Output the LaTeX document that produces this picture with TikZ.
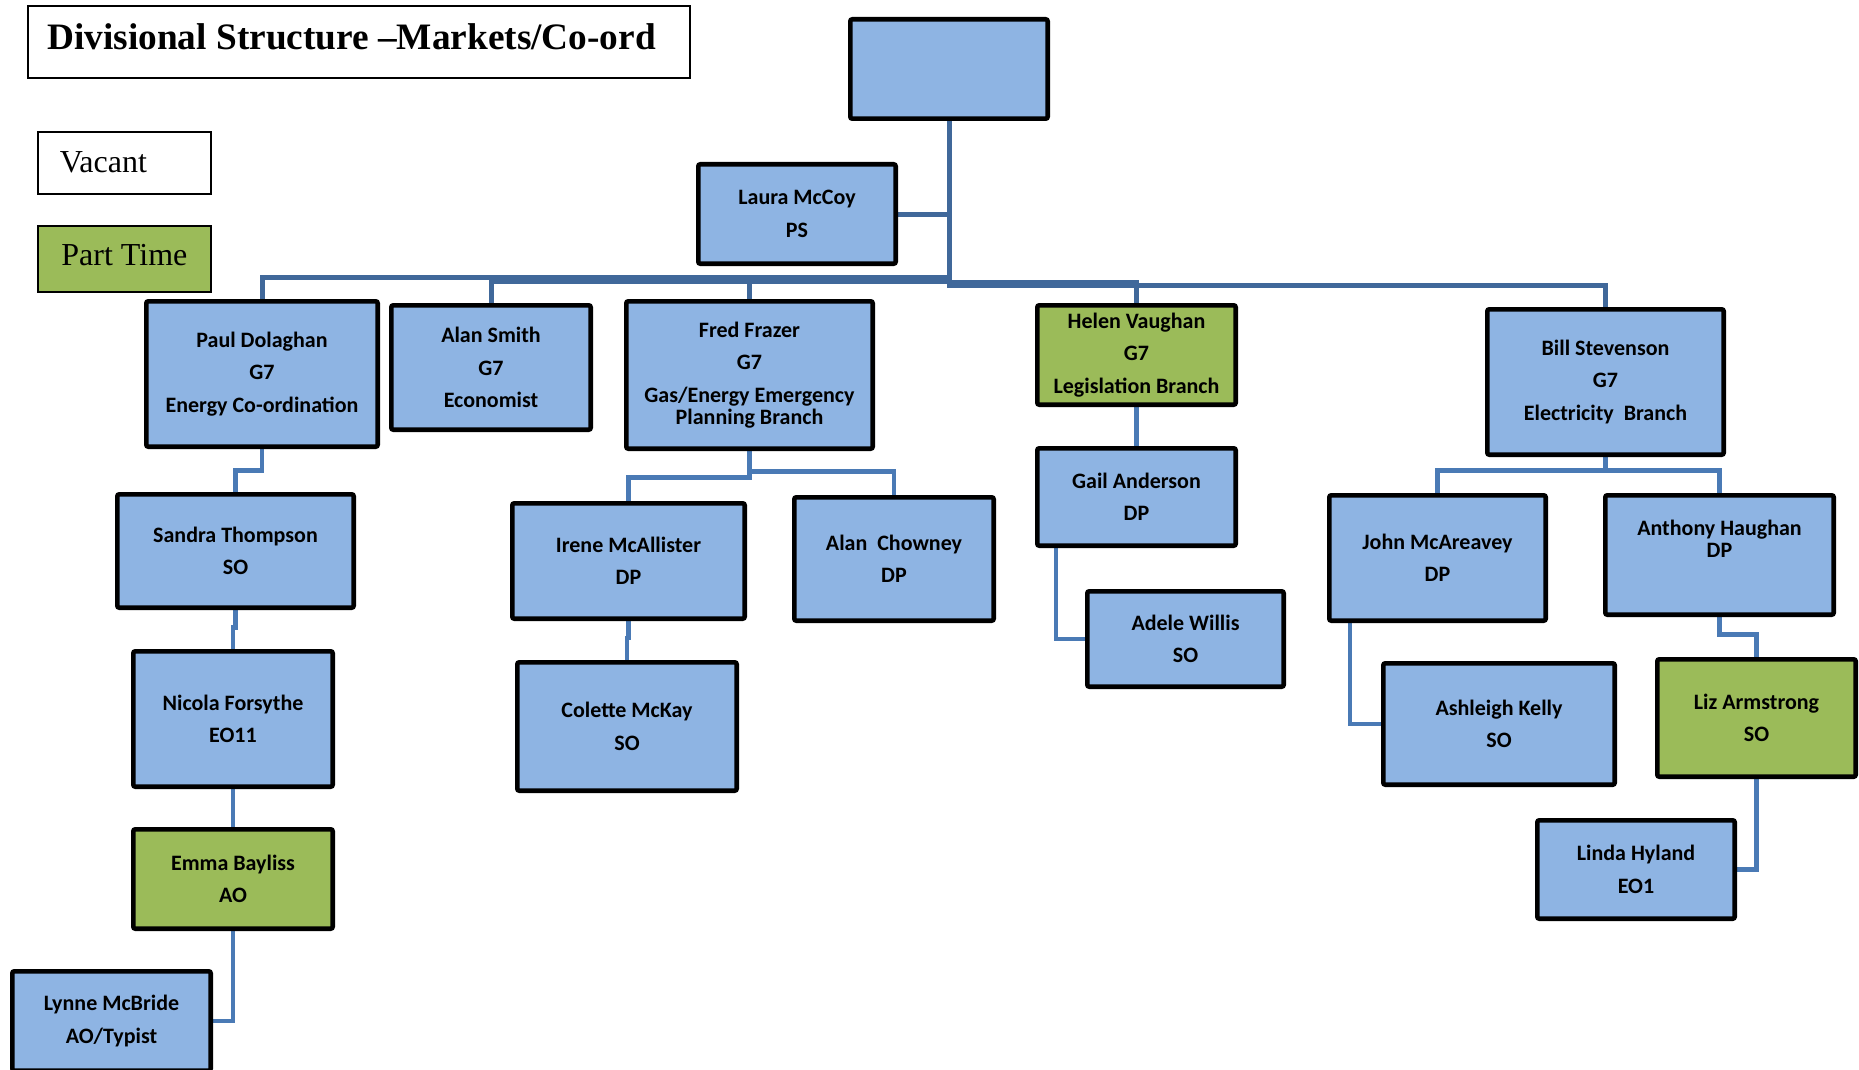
\documentclass[tikz,border=0pt]{standalone}
\usepackage{fontspec}
\setmainfont{Liberation Serif}
\newfontfamily\calfont{Carlito}
\usetikzlibrary{backgrounds}
\definecolor{boxblue}{RGB}{142,180,227}
\definecolor{boxgreen}{RGB}{155,187,89}
\definecolor{linetop}{RGB}{64,104,154}
\definecolor{linelow}{RGB}{74,122,181}
\tikzset{
  org/.style={draw=black, line width=2.35pt, fill=boxblue, rounded corners=1pt, inner sep=0pt,
    align=center, font=\calfont\bfseries\fontsize{11}{11.2}\selectfont},
  ptime/.style={org, fill=boxgreen},
  legendbox/.style={draw=black, line width=0.9pt, inner sep=0pt},
  contop/.style={draw=linetop, line width=2.5pt},
  conlow/.style={draw=linelow, line width=2.4pt},
}
\begin{document}
\begin{tikzpicture}[x=0.5pt,y=-0.5pt]
\useasboundingbox (0,0) rectangle (1859,1070);

% legend and title
\node[legendbox, minimum width=331.1pt, minimum height=36.1pt] (titlebox) at (359,42) {};
\node[anchor=base west, inner sep=0pt, font=\bfseries\fontsize{18.65}{22}\selectfont] (title) at (47,50) {Divisional Structure –Markets/Co-ord};
\node[legendbox, minimum width=86.6pt, minimum height=31.1pt] (vacantbox) at (124.5,163) {};
\node[anchor=base west, inner sep=0pt, font=\fontsize{16}{19}\selectfont] (vacant) at (59.5,172) {Vacant};
\node[legendbox, fill=boxgreen, minimum width=86.6pt, minimum height=33.1pt] (ptbox) at (124.5,259) {};
\node[anchor=base west, inner sep=0pt, font=\fontsize{16}{19}\selectfont] (parttime) at (61,265) {Part Time};

% org boxes
\node[org, minimum width=98.65pt, minimum height=49.65pt] (top) at (949,69) {};
\node[org, minimum width=98.65pt, minimum height=49.65pt] (laura) at (797,214) {Laura McCoy\\[5pt]PS};
\node[org, minimum width=115.65pt, minimum height=72.65pt] (paul) at (262,374) {Paul Dolaghan\\[5pt]G7\\[5pt]Energy Co-ordination};
\node[org, minimum width=99.65pt, minimum height=62.15pt] (alan) at (491,367.5) {Alan Smith\\[5pt]G7\\[5pt]Economist};
\node[org, minimum width=123.15pt, minimum height=73.65pt] (fred) at (749.5,375) {Fred Frazer\\[5pt]G7\\[5pt]Gas/Energy Emergency\\Planning Branch};
\node[ptime, minimum width=99.15pt, minimum height=49.65pt] (helen) at (1136.5,355) {Helen Vaughan\\[5pt]G7\\[5pt]Legislation Branch};
\node[org, minimum width=118.15pt, minimum height=72.65pt] (bill) at (1605.5,382) {Bill Stevenson\\[5pt]G7\\[5pt]Electricity\ \ Branch};
\node[org, minimum width=118.15pt, minimum height=56.65pt] (sandra) at (235.5,551) {Sandra Thompson\\[5pt]SO};
\node[org, minimum width=99.65pt, minimum height=67.65pt] (nicola) at (233,719) {Nicola Forsythe\\[5pt]EO11};
\node[ptime, minimum width=99.65pt, minimum height=49.65pt] (emma) at (233,879) {Emma Bayliss\\[5pt]AO};
\node[org, minimum width=99.15pt, minimum height=49.65pt] (lynne) at (111.5,1021) {Lynne McBride\\[5pt]AO/Typist};
\node[org, minimum width=116.15pt, minimum height=57.65pt] (irene) at (628.5,561) {Irene McAllister\\[5pt]DP};
\node[org, minimum width=99.65pt, minimum height=61.65pt] (chowney) at (894,559) {Alan\ \ Chowney\\[5pt]DP};
\node[org, minimum width=109.65pt, minimum height=64.15pt] (colette) at (627,726.5) {Colette McKay\\[5pt]SO};
\node[org, minimum width=99.15pt, minimum height=48.65pt] (gail) at (1136.5,497) {Gail Anderson\\[5pt]DP};
\node[org, minimum width=98.15pt, minimum height=47.65pt] (adele) at (1185.5,639) {Adele Willis\\[5pt]SO};
\node[org, minimum width=108.15pt, minimum height=62.65pt] (john) at (1437.5,558) {John McAreavey\\[5pt]DP};
\node[org, minimum width=114.15pt, minimum height=59.65pt] (anthony) at (1719.5,555) {Anthony Haughan\\DP\\[5pt]\mbox{}};
\node[org, minimum width=115.65pt, minimum height=60.65pt] (ashleigh) at (1499,724) {Ashleigh Kelly\\[5pt]SO};
\node[ptime, minimum width=99.15pt, minimum height=58.65pt] (liz) at (1756.5,718) {Liz Armstrong\\[5pt]SO};
\node[org, minimum width=98.65pt, minimum height=49.15pt] (linda) at (1636,869.5) {Linda Hyland\\[5pt]EO1};

% connectors
\begin{scope}[on background layer]
\draw[contop] (top.south) |- (laura.east);
\draw[contop] (top.south) |- ([yshift=10.7pt]paul.north) -- (paul.north);
\draw[contop] (top.south) |- ([yshift=10.7pt]alan.north) -- (alan.north);
\draw[contop] (top.south) |- ([yshift=8.7pt]fred.north) -- (fred.north);
\draw[contop] (top.south) |- ([yshift=10.2pt]helen.north) -- (helen.north);
\draw[contop] (top.south) |- ([yshift=10.7pt]bill.north) -- (bill.north);

\draw[conlow] (paul.south) |- ([yshift=10.7pt]sandra.north) -- (sandra.north);
\draw[conlow] (sandra.south) |- ([yshift=10.7pt]nicola.north) -- (nicola.north);
\draw[conlow] (nicola.south) -- (emma.north);
\draw[conlow] (emma.south) |- (lynne.east);
\draw[conlow] (fred.south) |- ([yshift=11.7pt]irene.north) -- (irene.north);
\draw[conlow] (fred.south) |- ([yshift=11.7pt]chowney.north) -- (chowney.north);
\draw[conlow] (irene.south) |- ([yshift=11pt]colette.north) -- (colette.north);
\draw[conlow] (helen.south) -- (gail.north);
\draw[conlow] ([xshift=-40.25pt]gail.south) |- (adele.west);
\draw[conlow] (bill.south) |- ([yshift=11.2pt]john.north) -- (john.north);
\draw[conlow] (bill.south) |- ([yshift=11.2pt]anthony.north) -- (anthony.north);
\draw[conlow] ([xshift=-43.75pt]john.south) |- (ashleigh.west);
\draw[conlow] (anthony.south) |- ([yshift=11.2pt]liz.north) -- (liz.north);
\draw[conlow] (liz.south) |- (linda.east);
\end{scope}
\end{tikzpicture}
\end{document}
